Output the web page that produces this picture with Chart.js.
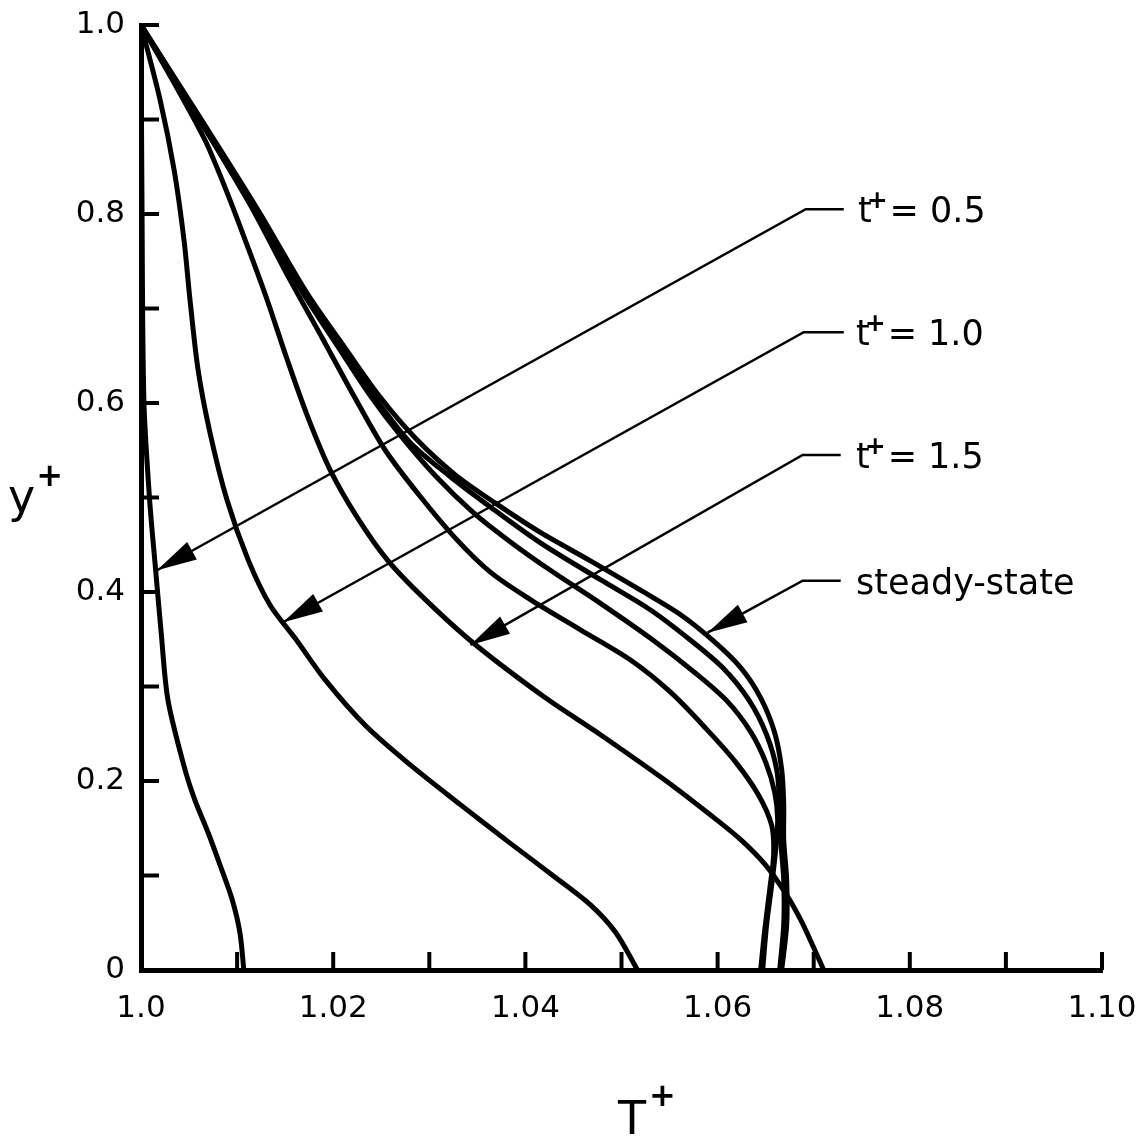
<!DOCTYPE html>
<html>
<head>
<meta charset="utf-8">
<script src="https://cdn.jsdelivr.net/npm/chart.js@4.4.0/dist/chart.umd.min.js"></script>
<style>
  html, body { margin: 0; padding: 0; background: #fff; }
  #wrap { width: 1137px; height: 1139px; position: relative; }
</style>
</head>
<body>
<div id="wrap"><canvas id="chart"></canvas></div>
<script>
// 坐标轴刻度
const xTickValues = [1.0, 1.02, 1.04, 1.06, 1.08, 1.10];
const xTickLabels = ['1.0', '1.02', '1.04', '1.06', '1.08', '1.10'];
const yTickValues = [0, 0.2, 0.4, 0.6, 0.8, 1.0];
const yTickLabels = ['0', '0.2', '0.4', '0.6', '0.8', '1.0'];

// 各时刻温度分布 T+ (x) vs y+ (y)
const t05X = [1.0, 1.0001, 1.0003, 1.0009, 1.0015, 1.0021, 1.0028, 1.0045, 1.0056, 1.0070, 1.0083, 1.0095, 1.0103, 1.0107];
const t05Y = [1.0, 0.815, 0.603, 0.497, 0.426, 0.357, 0.286, 0.215, 0.180, 0.145, 0.109, 0.074, 0.039, 0];

const t10X = [1.0, 1.00198, 1.00344, 1.00448, 1.0051, 1.00594, 1.00719, 1.00896, 1.01115, 1.01344, 1.01604, 1.01917, 1.02333, 1.02802, 1.03323, 1.03844, 1.04313, 1.04677, 1.04938, 1.05167];
const t10Y = [1.0, 0.921, 0.847, 0.772, 0.709, 0.635, 0.568, 0.497, 0.434, 0.386, 0.351, 0.307, 0.259, 0.217, 0.175, 0.134, 0.098, 0.069, 0.040, 0];

const t15X = [1.0, 1.00354, 1.00667, 1.00906, 1.01115, 1.01313, 1.01521, 1.01729, 1.01969, 1.0225, 1.02563, 1.02938, 1.03458, 1.04208, 1.04781, 1.05479, 1.05927, 1.0624, 1.065, 1.06708, 1.06865, 1.0699, 1.07104];
const t15Y = [1.0, 0.937, 0.878, 0.820, 0.764, 0.709, 0.646, 0.587, 0.529, 0.479, 0.434, 0.394, 0.346, 0.288, 0.249, 0.199, 0.164, 0.138, 0.111, 0.081, 0.053, 0.026, 0];

const c4X = [1.0, 1.00615, 1.01135, 1.01552, 1.01896, 1.02229, 1.02542, 1.02906, 1.03271, 1.03635, 1.04052, 1.04573, 1.05094, 1.0551, 1.05875, 1.06188, 1.06427, 1.06563, 1.06583, 1.06542, 1.0649, 1.06448];
const c4Y = [1.0, 0.899, 0.810, 0.730, 0.667, 0.605, 0.550, 0.501, 0.457, 0.421, 0.392, 0.360, 0.328, 0.294, 0.256, 0.220, 0.185, 0.153, 0.122, 0.085, 0.042, 0];

const c5X = [1.0, 1.00615, 1.01188, 1.01688, 1.02073, 1.02385, 1.02698, 1.03063, 1.03458, 1.03844, 1.0426, 1.04781, 1.05302, 1.05771, 1.06104, 1.06344, 1.065, 1.06594, 1.06625, 1.06604, 1.06563, 1.0651, 1.06469];
const c5Y = [1.0, 0.899, 0.802, 0.716, 0.656, 0.608, 0.566, 0.523, 0.484, 0.453, 0.423, 0.388, 0.351, 0.314, 0.284, 0.252, 0.220, 0.188, 0.159, 0.127, 0.090, 0.048, 0];

const c6X = [1.0, 1.00615, 1.01208, 1.01708, 1.02104, 1.02438, 1.02802, 1.03219, 1.03635, 1.04156, 1.04781, 1.05302, 1.05719, 1.06052, 1.06323, 1.0651, 1.06615, 1.06646, 1.06656, 1.06688, 1.06688, 1.06646];
const c6Y = [1.0, 0.899, 0.802, 0.714, 0.654, 0.605, 0.558, 0.522, 0.490, 0.452, 0.413, 0.381, 0.349, 0.320, 0.286, 0.249, 0.212, 0.175, 0.138, 0.095, 0.048, 0];

const ssX = [1.0, 1.00615, 1.01219, 1.01729, 1.02125, 1.0249, 1.02854, 1.03271, 1.03688, 1.04156, 1.04677, 1.05198, 1.05615, 1.05948, 1.0624, 1.06448, 1.06594, 1.06667, 1.06688, 1.06688, 1.06719, 1.06719, 1.06667];
const ssY = [1.0, 0.902, 0.804, 0.716, 0.658, 0.606, 0.563, 0.524, 0.494, 0.463, 0.433, 0.402, 0.376, 0.349, 0.320, 0.288, 0.251, 0.212, 0.175, 0.138, 0.095, 0.048, 0];

// 标注：箭头尖端、折点、文字
const noteLabels = ['0.5', '1.0', '1.5', 'steady-state'];
const noteTipX = [1.00167, 1.01479, 1.03427, 1.05896];
const noteTipY = [0.423, 0.368, 0.344, 0.357];
const noteElbowX = [1.06917, 1.06896, 1.06885, 1.06885];
const noteElbowY = [0.805, 0.675, 0.545, 0.412];
const noteEndX = [1.07313, 1.07313, 1.07281, 1.07281];
const noteTextX = [1.0746, 1.0744, 1.0744, 1.0744];

const FONT = "'DejaVu Sans', sans-serif";

function toPoints(xs, ys) {
  return xs.map((x, i) => ({ x, y: ys[i] }));
}

function curve(xs, ys) {
  return {
    data: toPoints(xs, ys),
    showLine: true,
    borderColor: '#000',
    borderWidth: 5,
    pointRadius: 0,
    tension: 0.3,
    fill: false,
  };
}

function findLabel(values, labels, v) {
  const i = values.findIndex((t) => Math.abs(t - v) < 1e-6);
  return i >= 0 ? labels[i] : '';
}

// 带上标 "+" 的文字
function supText(ctx, base, size, x, y, supDx, supDy) {
  ctx.font = size + 'px ' + FONT;
  ctx.fillText(base, x, y);
  const w = ctx.measureText(base).width;
  ctx.font = 'bold ' + Math.round(size * 0.7) + 'px ' + FONT;
  ctx.fillText('+', x + w + supDx, y + supDy);
  return x + w + supDx + ctx.measureText('+').width;
}

/** 向内的刻度线 + 轴标题 + 箭头标注 */
const paperPlugin = {
  id: 'paper',
  afterDraw(chart) {
    const { ctx, scales } = chart;
    const xs = scales.x;
    const ys = scales.y;
    ctx.save();
    ctx.strokeStyle = '#000';
    ctx.fillStyle = '#000';

    // 刻度线
    ctx.lineWidth = 4;
    xs.ticks.forEach((t) => {
      if (Math.abs(t.value - 1.0) < 1e-6) return;
      const px = xs.getPixelForValue(t.value);
      ctx.beginPath();
      ctx.moveTo(px, ys.bottom);
      ctx.lineTo(px, ys.bottom - 18);
      ctx.stroke();
    });
    ys.ticks.forEach((t) => {
      if (Math.abs(t.value) < 1e-6) return;
      const py = ys.getPixelForValue(t.value);
      ctx.beginPath();
      ctx.moveTo(xs.left, py);
      ctx.lineTo(xs.left + 18, py);
      ctx.stroke();
    });

    // 轴标题
    ctx.textAlign = 'left';
    ctx.textBaseline = 'alphabetic';
    supText(ctx, 'y', 46, 8, 512, 1, -26);
    supText(ctx, 'T', 46, 618, 1134, 3, -28);

    // 箭头标注
    noteLabels.forEach((label, i) => {
      const tx = xs.getPixelForValue(noteTipX[i]);
      const ty = ys.getPixelForValue(noteTipY[i]);
      const ex = xs.getPixelForValue(noteElbowX[i]);
      const ey = ys.getPixelForValue(noteElbowY[i]);
      const fx = xs.getPixelForValue(noteEndX[i]);

      ctx.lineWidth = 2.5;
      ctx.beginPath();
      ctx.moveTo(fx, ey);
      ctx.lineTo(ex, ey);
      ctx.lineTo(tx, ty);
      ctx.stroke();

      // 实心箭头
      const ang = Math.atan2(ey - ty, ex - tx);
      const len = 40;
      const half = 10;
      const bx = tx + Math.cos(ang) * len;
      const by = ty + Math.sin(ang) * len;
      ctx.beginPath();
      ctx.moveTo(tx, ty);
      ctx.lineTo(bx - Math.sin(ang) * half, by + Math.cos(ang) * half);
      ctx.lineTo(bx + Math.sin(ang) * half, by - Math.cos(ang) * half);
      ctx.closePath();
      ctx.fill();

      const lx = xs.getPixelForValue(noteTextX[i]);
      const ly = ey + 13;
      if (i === 3) {
        ctx.font = '35px ' + FONT;
        ctx.fillText(label, lx, ly);
      } else {
        const nx = supText(ctx, 't', 35, lx, ly, -5, -14);
        ctx.font = '35px ' + FONT;
        ctx.fillText('= ' + label, nx + 2, ly);
      }
    });

    ctx.restore();
  },
};

new Chart(document.getElementById('chart'), {
  type: 'scatter',
  data: {
    datasets: [
      curve(t05X, t05Y),
      curve(t10X, t10Y),
      curve(t15X, t15Y),
      curve(c4X, c4Y),
      curve(c5X, c5Y),
      curve(c6X, c6Y),
      curve(ssX, ssY),
    ],
  },
  options: {
    responsive: true,
    maintainAspectRatio: false,
    animation: false,
    layout: { padding: { top: 25, right: 35, left: 0, bottom: 0 } },
    plugins: {
      legend: { display: false },
      tooltip: { enabled: false },
    },
    scales: {
      x: {
        type: 'linear',
        min: 1.0,
        max: 1.1,
        afterFit(scale) {
          scale.height = 169;
          scale.paddingLeft = 0;
          scale.paddingRight = 0;
        },
        grid: { display: false, drawTicks: false },
        border: { display: true, color: '#000', width: 5 },
        ticks: {
          stepSize: 0.01,
          autoSkip: false,
          maxRotation: 0,
          padding: 20,
          color: '#000',
          font: { family: FONT, size: 31 },
          callback: (v) => findLabel(xTickValues, xTickLabels, v),
        },
      },
      y: {
        type: 'linear',
        min: 0,
        max: 1,
        afterFit(scale) {
          scale.width = 141;
          scale.paddingTop = 0;
          scale.paddingBottom = 0;
        },
        grid: { display: false, drawTicks: false },
        border: { display: true, color: '#000', width: 5 },
        ticks: {
          stepSize: 0.1,
          autoSkip: false,
          padding: 16,
          color: '#000',
          font: { family: FONT, size: 31 },
          callback: (v) => findLabel(yTickValues, yTickLabels, v),
        },
      },
    },
  },
  plugins: [paperPlugin],
});
</script>
</body>
</html>
